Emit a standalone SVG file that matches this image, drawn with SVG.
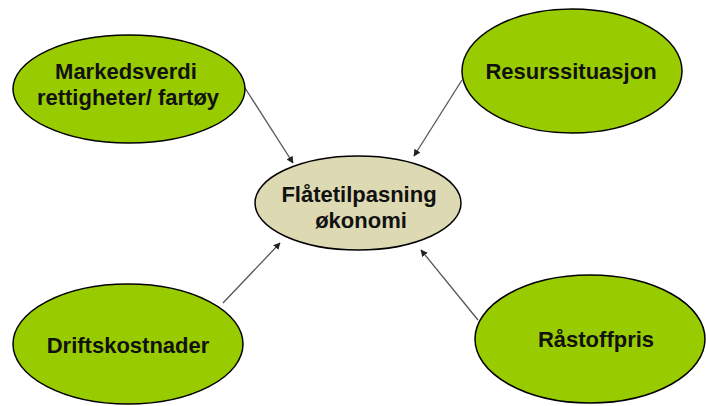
<svg xmlns="http://www.w3.org/2000/svg" width="706" height="406" viewBox="0 0 706 406">
<style>
.g{fill:#99cc00;stroke:#000;stroke-width:1.5}
.c{fill:#ddd9b3;stroke:#000;stroke-width:1.5}
.t{font-family:"Liberation Sans",Arial,sans-serif;font-size:22px;font-weight:bold;fill:#111;text-anchor:middle}
.l{stroke:#555;stroke-width:1.3;fill:none;marker-end:url(#a)}
</style>
<defs>
<marker id="a" viewBox="0 0 10 10" refX="9" refY="5" markerWidth="7" markerHeight="7" markerUnits="userSpaceOnUse" orient="auto">
<path d="M0,0L10,5L0,10z" fill="#222"/>
</marker>
</defs>
<rect width="706" height="406" fill="#fff"/>
<g id="connectors">
<line class="l" x1="245" y1="88" x2="293" y2="163"/>
<line class="l" x1="462" y1="80" x2="414" y2="156"/>
<line class="l" x1="223" y1="303" x2="280" y2="243"/>
<line class="l" x1="478" y1="320" x2="421" y2="250"/>
</g>
<g id="markedsverdi">
<ellipse class="g" cx="129" cy="89" rx="116" ry="54"/>
<text class="t" x="126" y="79">Markedsverdi</text>
<text class="t" x="128" y="105">rettigheter/ fartøy</text>
</g>
<g id="resurssituasjon">
<ellipse class="g" cx="572" cy="71" rx="110" ry="62"/>
<text class="t" x="571" y="79">Resurssituasjon</text>
</g>
<g id="flatetilpasning">
<ellipse class="c" cx="358" cy="203" rx="103" ry="47"/>
<text class="t" x="359" y="202">Flåtetilpasning</text>
<text class="t" x="361" y="228">økonomi</text>
</g>
<g id="driftskostnader">
<ellipse class="g" cx="128" cy="344" rx="115" ry="60"/>
<text class="t" x="128" y="353">Driftskostnader</text>
</g>
<g id="rastoffpris">
<ellipse class="g" cx="590" cy="339" rx="115" ry="64"/>
<text class="t" x="596" y="347">Råstoffpris</text>
</g>
</svg>
